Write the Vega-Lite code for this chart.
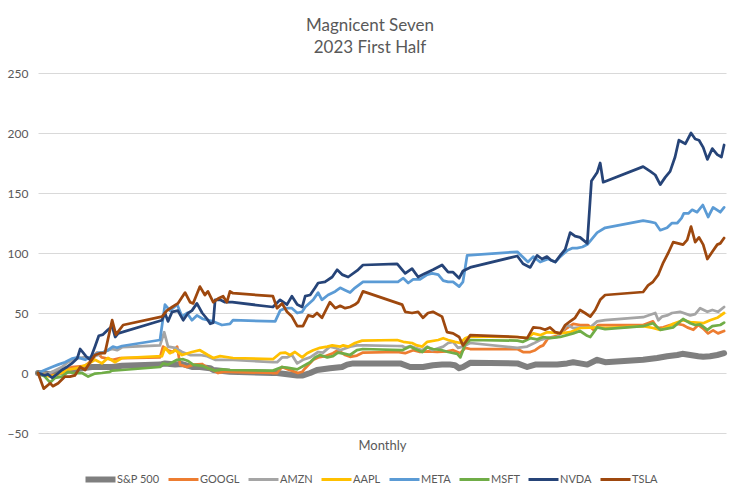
{
"$schema":"https://vega.github.io/schema/vega-lite/v6.json",
"width":688,"height":360,
"autosize":{"type":"none"},
"padding":{"left":38,"top":73,"right":15,"bottom":68},
"background":"white",
"title":{"text":["Magnicent Seven","2023 First Half"],"anchor":"middle","dx":-12,"offset":10,"font":"Lato","fontSize":17,"fontWeight":"normal","color":"#595959","lineHeight":22},
"data":{"values":[
{"s":"S&P 500","d":0,"v":0},{"s":"S&P 500","d":3.2,"v":-1},{"s":"S&P 500","d":6.3,"v":1},{"s":"S&P 500","d":8.9,"v":2.5},{"s":"S&P 500","d":11.6,"v":4},{"s":"S&P 500","d":14.2,"v":5},{"s":"S&P 500","d":16.3,"v":5},{"s":"S&P 500","d":19.5,"v":5},{"s":"S&P 500","d":22.1,"v":6},{"s":"S&P 500","d":32.1,"v":7},{"s":"S&P 500","d":33.4,"v":8},{"s":"S&P 500","d":36.1,"v":7},{"s":"S&P 500","d":37.9,"v":7.5},{"s":"S&P 500","d":40.5,"v":5},{"s":"S&P 500","d":42.6,"v":5},{"s":"S&P 500","d":45.3,"v":4},{"s":"S&P 500","d":46.1,"v":2.5},{"s":"S&P 500","d":50.5,"v":1},{"s":"S&P 500","d":61.8,"v":0},{"s":"S&P 500","d":62.9,"v":0},{"s":"S&P 500","d":68.2,"v":-2},{"s":"S&P 500","d":69.7,"v":-2},{"s":"S&P 500","d":71.6,"v":0},{"s":"S&P 500","d":73.4,"v":2.5},{"s":"S&P 500","d":76.8,"v":4},{"s":"S&P 500","d":80,"v":5},{"s":"S&P 500","d":81.3,"v":7},{"s":"S&P 500","d":82.9,"v":8},{"s":"S&P 500","d":85.5,"v":8},{"s":"S&P 500","d":94.5,"v":8},{"s":"S&P 500","d":95.3,"v":8},{"s":"S&P 500","d":97.9,"v":5},{"s":"S&P 500","d":101.3,"v":5},{"s":"S&P 500","d":103.9,"v":6.5},{"s":"S&P 500","d":106.3,"v":7},{"s":"S&P 500","d":108.4,"v":7},{"s":"S&P 500","d":109.7,"v":6.5},{"s":"S&P 500","d":110.8,"v":4},{"s":"S&P 500","d":111.8,"v":5},{"s":"S&P 500","d":113.7,"v":8.5},{"s":"S&P 500","d":126.1,"v":8},{"s":"S&P 500","d":128.7,"v":5},{"s":"S&P 500","d":130.8,"v":7},{"s":"S&P 500","d":136.6,"v":7},{"s":"S&P 500","d":139.2,"v":8},{"s":"S&P 500","d":140.8,"v":9},{"s":"S&P 500","d":142.6,"v":8},{"s":"S&P 500","d":144.5,"v":7},{"s":"S&P 500","d":147.1,"v":11},{"s":"S&P 500","d":149.2,"v":9},{"s":"S&P 500","d":159.2,"v":11},{"s":"S&P 500","d":162.9,"v":12.5},{"s":"S&P 500","d":165.5,"v":14},{"s":"S&P 500","d":168.2,"v":15},{"s":"S&P 500","d":169.5,"v":16},{"s":"S&P 500","d":171.6,"v":15},{"s":"S&P 500","d":173.7,"v":14},{"s":"S&P 500","d":175,"v":13.5},{"s":"S&P 500","d":176.8,"v":14},{"s":"S&P 500","d":178.7,"v":15},{"s":"S&P 500","d":180.5,"v":16.5},
{"s":"GOOGL","d":0,"v":0},{"s":"GOOGL","d":4.5,"v":-2},{"s":"GOOGL","d":6.3,"v":1},{"s":"GOOGL","d":8.9,"v":5},{"s":"GOOGL","d":12.4,"v":6},{"s":"GOOGL","d":13.2,"v":8},{"s":"GOOGL","d":14.5,"v":12},{"s":"GOOGL","d":15.5,"v":17},{"s":"GOOGL","d":16.8,"v":13},{"s":"GOOGL","d":18.2,"v":12},{"s":"GOOGL","d":19.7,"v":11},{"s":"GOOGL","d":21.6,"v":12.5},{"s":"GOOGL","d":22.4,"v":12.5},{"s":"GOOGL","d":32.1,"v":13},{"s":"GOOGL","d":32.9,"v":22},{"s":"GOOGL","d":34.2,"v":19},{"s":"GOOGL","d":35.5,"v":17.5},{"s":"GOOGL","d":36.6,"v":22},{"s":"GOOGL","d":37.4,"v":7},{"s":"GOOGL","d":39.2,"v":5},{"s":"GOOGL","d":40.8,"v":7},{"s":"GOOGL","d":43.2,"v":7.5},{"s":"GOOGL","d":44.7,"v":4},{"s":"GOOGL","d":46.1,"v":2.5},{"s":"GOOGL","d":47.4,"v":0},{"s":"GOOGL","d":48.7,"v":1},{"s":"GOOGL","d":50.5,"v":1},{"s":"GOOGL","d":61.6,"v":0},{"s":"GOOGL","d":62.9,"v":0},{"s":"GOOGL","d":64.2,"v":5},{"s":"GOOGL","d":65.8,"v":3},{"s":"GOOGL","d":68.4,"v":0},{"s":"GOOGL","d":69.5,"v":1},{"s":"GOOGL","d":70.3,"v":4},{"s":"GOOGL","d":72.4,"v":11},{"s":"GOOGL","d":73.7,"v":13},{"s":"GOOGL","d":75.5,"v":14},{"s":"GOOGL","d":77.6,"v":16.5},{"s":"GOOGL","d":78.9,"v":19},{"s":"GOOGL","d":80.8,"v":15},{"s":"GOOGL","d":82.1,"v":13.5},{"s":"GOOGL","d":83.9,"v":14.5},{"s":"GOOGL","d":85.5,"v":17},{"s":"GOOGL","d":94.5,"v":17.5},{"s":"GOOGL","d":96.6,"v":16.5},{"s":"GOOGL","d":98.7,"v":19},{"s":"GOOGL","d":100.5,"v":17.5},{"s":"GOOGL","d":102.6,"v":18},{"s":"GOOGL","d":105,"v":17.5},{"s":"GOOGL","d":107.6,"v":18},{"s":"GOOGL","d":109.2,"v":19},{"s":"GOOGL","d":111.1,"v":16.5},{"s":"GOOGL","d":112.4,"v":21},{"s":"GOOGL","d":113.7,"v":20},{"s":"GOOGL","d":126.1,"v":20},{"s":"GOOGL","d":127.6,"v":17.5},{"s":"GOOGL","d":129.5,"v":17.5},{"s":"GOOGL","d":130.8,"v":19},{"s":"GOOGL","d":132.1,"v":22},{"s":"GOOGL","d":132.9,"v":23},{"s":"GOOGL","d":134.2,"v":29},{"s":"GOOGL","d":136.6,"v":31},{"s":"GOOGL","d":139.2,"v":37.5},{"s":"GOOGL","d":140.8,"v":41},{"s":"GOOGL","d":142.6,"v":40},{"s":"GOOGL","d":144.7,"v":40},{"s":"GOOGL","d":146.1,"v":36},{"s":"GOOGL","d":147.4,"v":40},{"s":"GOOGL","d":149.2,"v":40},{"s":"GOOGL","d":159.2,"v":40},{"s":"GOOGL","d":161.8,"v":43},{"s":"GOOGL","d":162.9,"v":37.5},{"s":"GOOGL","d":164.5,"v":38},{"s":"GOOGL","d":166.3,"v":40},{"s":"GOOGL","d":168.2,"v":41},{"s":"GOOGL","d":169.7,"v":40},{"s":"GOOGL","d":170.8,"v":38},{"s":"GOOGL","d":172.4,"v":36},{"s":"GOOGL","d":173.7,"v":40},{"s":"GOOGL","d":175,"v":37},{"s":"GOOGL","d":176.3,"v":33},{"s":"GOOGL","d":177.6,"v":35.5},{"s":"GOOGL","d":178.9,"v":33},{"s":"GOOGL","d":180.5,"v":35},
{"s":"AMZN","d":0,"v":0},{"s":"AMZN","d":2.5,"v":-1},{"s":"AMZN","d":6.3,"v":5},{"s":"AMZN","d":7.9,"v":9},{"s":"AMZN","d":9.7,"v":12},{"s":"AMZN","d":12,"v":13},{"s":"AMZN","d":14.2,"v":13},{"s":"AMZN","d":15.8,"v":15},{"s":"AMZN","d":17.6,"v":18},{"s":"AMZN","d":19.5,"v":20},{"s":"AMZN","d":20.8,"v":19},{"s":"AMZN","d":22.1,"v":21.5},{"s":"AMZN","d":32.1,"v":23},{"s":"AMZN","d":33.2,"v":34},{"s":"AMZN","d":34.2,"v":22},{"s":"AMZN","d":36.1,"v":21},{"s":"AMZN","d":37.9,"v":17.5},{"s":"AMZN","d":40,"v":15},{"s":"AMZN","d":42.6,"v":15},{"s":"AMZN","d":44.5,"v":14},{"s":"AMZN","d":46.6,"v":11},{"s":"AMZN","d":51.3,"v":11},{"s":"AMZN","d":61.8,"v":9},{"s":"AMZN","d":62.9,"v":9},{"s":"AMZN","d":64.2,"v":13},{"s":"AMZN","d":65.5,"v":13},{"s":"AMZN","d":66.8,"v":15},{"s":"AMZN","d":68.2,"v":8},{"s":"AMZN","d":69.7,"v":11},{"s":"AMZN","d":71.6,"v":13},{"s":"AMZN","d":73.7,"v":17.5},{"s":"AMZN","d":75,"v":17},{"s":"AMZN","d":76.8,"v":22},{"s":"AMZN","d":78.2,"v":21},{"s":"AMZN","d":79.5,"v":19},{"s":"AMZN","d":82.1,"v":22},{"s":"AMZN","d":83.9,"v":23},{"s":"AMZN","d":86.1,"v":23},{"s":"AMZN","d":94.5,"v":22.5},{"s":"AMZN","d":95.8,"v":22.5},{"s":"AMZN","d":96.6,"v":21},{"s":"AMZN","d":97.9,"v":22.5},{"s":"AMZN","d":101.1,"v":19},{"s":"AMZN","d":102.4,"v":22},{"s":"AMZN","d":103.7,"v":19},{"s":"AMZN","d":106.6,"v":22},{"s":"AMZN","d":107.9,"v":25},{"s":"AMZN","d":109.2,"v":26},{"s":"AMZN","d":110.5,"v":21},{"s":"AMZN","d":111.8,"v":22},{"s":"AMZN","d":113.7,"v":25},{"s":"AMZN","d":126.1,"v":21},{"s":"AMZN","d":128.7,"v":22},{"s":"AMZN","d":130.3,"v":24.5},{"s":"AMZN","d":132.1,"v":27.5},{"s":"AMZN","d":133.9,"v":29},{"s":"AMZN","d":136.6,"v":30},{"s":"AMZN","d":139.2,"v":40},{"s":"AMZN","d":140.8,"v":37.5},{"s":"AMZN","d":143,"v":38},{"s":"AMZN","d":145.3,"v":38},{"s":"AMZN","d":147.1,"v":43},{"s":"AMZN","d":149.2,"v":44},{"s":"AMZN","d":159.2,"v":46.5},{"s":"AMZN","d":162.4,"v":50},{"s":"AMZN","d":163.2,"v":44},{"s":"AMZN","d":164.2,"v":47},{"s":"AMZN","d":165.5,"v":48},{"s":"AMZN","d":166.8,"v":50},{"s":"AMZN","d":168.9,"v":51},{"s":"AMZN","d":171.6,"v":48},{"s":"AMZN","d":172.9,"v":49},{"s":"AMZN","d":174.2,"v":54},{"s":"AMZN","d":176.1,"v":51},{"s":"AMZN","d":177.4,"v":52.5},{"s":"AMZN","d":178.9,"v":51},{"s":"AMZN","d":180.5,"v":55},
{"s":"AAPL","d":0,"v":0},{"s":"AAPL","d":3.2,"v":-3},{"s":"AAPL","d":6.3,"v":0},{"s":"AAPL","d":7.6,"v":2.5},{"s":"AAPL","d":10.3,"v":4},{"s":"AAPL","d":12.9,"v":7},{"s":"AAPL","d":15,"v":11},{"s":"AAPL","d":16.8,"v":8},{"s":"AAPL","d":18.4,"v":12.5},{"s":"AAPL","d":20.3,"v":9},{"s":"AAPL","d":22.1,"v":12.5},{"s":"AAPL","d":32.6,"v":14},{"s":"AAPL","d":33.4,"v":21},{"s":"AAPL","d":34.7,"v":16.5},{"s":"AAPL","d":36.1,"v":19},{"s":"AAPL","d":37.9,"v":15},{"s":"AAPL","d":40.5,"v":17.5},{"s":"AAPL","d":42.6,"v":19},{"s":"AAPL","d":44.7,"v":15},{"s":"AAPL","d":46.1,"v":12.5},{"s":"AAPL","d":47.9,"v":14},{"s":"AAPL","d":51.3,"v":12.5},{"s":"AAPL","d":61.8,"v":11.5},{"s":"AAPL","d":63.7,"v":16.5},{"s":"AAPL","d":65,"v":17},{"s":"AAPL","d":66.3,"v":15},{"s":"AAPL","d":67.6,"v":17.5},{"s":"AAPL","d":69.5,"v":13},{"s":"AAPL","d":70.8,"v":16.5},{"s":"AAPL","d":72.4,"v":19},{"s":"AAPL","d":74.2,"v":21},{"s":"AAPL","d":76.1,"v":22},{"s":"AAPL","d":77.4,"v":23},{"s":"AAPL","d":79.5,"v":22},{"s":"AAPL","d":80.3,"v":23},{"s":"AAPL","d":81.6,"v":22},{"s":"AAPL","d":83.4,"v":25},{"s":"AAPL","d":85.3,"v":27},{"s":"AAPL","d":94.5,"v":27.5},{"s":"AAPL","d":96.1,"v":26},{"s":"AAPL","d":98.4,"v":25},{"s":"AAPL","d":99.7,"v":23},{"s":"AAPL","d":101.1,"v":22},{"s":"AAPL","d":102.4,"v":26},{"s":"AAPL","d":105.3,"v":27.5},{"s":"AAPL","d":106.6,"v":29},{"s":"AAPL","d":107.9,"v":27.5},{"s":"AAPL","d":109.7,"v":26},{"s":"AAPL","d":111.1,"v":25},{"s":"AAPL","d":112.4,"v":29},{"s":"AAPL","d":113.7,"v":30.5},{"s":"AAPL","d":126.1,"v":30},{"s":"AAPL","d":128.7,"v":29},{"s":"AAPL","d":130.3,"v":33},{"s":"AAPL","d":132.1,"v":31.5},{"s":"AAPL","d":133.9,"v":34},{"s":"AAPL","d":137.4,"v":33},{"s":"AAPL","d":140,"v":34},{"s":"AAPL","d":142.6,"v":37.5},{"s":"AAPL","d":147.1,"v":38},{"s":"AAPL","d":149.2,"v":37.5},{"s":"AAPL","d":159.2,"v":39},{"s":"AAPL","d":161.8,"v":37.5},{"s":"AAPL","d":163.7,"v":36},{"s":"AAPL","d":165.5,"v":38},{"s":"AAPL","d":167.1,"v":41},{"s":"AAPL","d":169.7,"v":44},{"s":"AAPL","d":171.6,"v":42.5},{"s":"AAPL","d":175,"v":41.5},{"s":"AAPL","d":176.8,"v":44},{"s":"AAPL","d":178.7,"v":46},{"s":"AAPL","d":180.5,"v":50},
{"s":"META","d":0,"v":0},{"s":"META","d":1.8,"v":2.5},{"s":"META","d":3.7,"v":5},{"s":"META","d":5.3,"v":7},{"s":"META","d":7.1,"v":9},{"s":"META","d":8.9,"v":12},{"s":"META","d":10.5,"v":13},{"s":"META","d":12.4,"v":11},{"s":"META","d":14.2,"v":14},{"s":"META","d":15.8,"v":17},{"s":"META","d":17.1,"v":17},{"s":"META","d":18.4,"v":19},{"s":"META","d":19.7,"v":22},{"s":"META","d":20.8,"v":21},{"s":"META","d":22.1,"v":22.5},{"s":"META","d":32.1,"v":27.5},{"s":"META","d":33.4,"v":57},{"s":"META","d":34.7,"v":52},{"s":"META","d":36.6,"v":57},{"s":"META","d":37.9,"v":47},{"s":"META","d":39.2,"v":50},{"s":"META","d":40.5,"v":44},{"s":"META","d":41.8,"v":48},{"s":"META","d":43.4,"v":45},{"s":"META","d":46.1,"v":43},{"s":"META","d":48.4,"v":40},{"s":"META","d":50.5,"v":41},{"s":"META","d":51.3,"v":44},{"s":"META","d":62.4,"v":43},{"s":"META","d":63.7,"v":52},{"s":"META","d":65,"v":54},{"s":"META","d":66.8,"v":54},{"s":"META","d":68.2,"v":50},{"s":"META","d":69.5,"v":51},{"s":"META","d":70.3,"v":55},{"s":"META","d":72.4,"v":61},{"s":"META","d":73.7,"v":67},{"s":"META","d":74.7,"v":61},{"s":"META","d":76.3,"v":65},{"s":"META","d":78.2,"v":68},{"s":"META","d":79.5,"v":71},{"s":"META","d":80.8,"v":69},{"s":"META","d":82.1,"v":67},{"s":"META","d":83.4,"v":71},{"s":"META","d":85.5,"v":76},{"s":"META","d":94.7,"v":76},{"s":"META","d":96.1,"v":79},{"s":"META","d":97.4,"v":75},{"s":"META","d":98.7,"v":78},{"s":"META","d":100.5,"v":78},{"s":"META","d":102.4,"v":82},{"s":"META","d":103.7,"v":83},{"s":"META","d":105.3,"v":82},{"s":"META","d":106.6,"v":77},{"s":"META","d":107.9,"v":76},{"s":"META","d":109.2,"v":76},{"s":"META","d":110.8,"v":72},{"s":"META","d":111.8,"v":76},{"s":"META","d":112.9,"v":98},{"s":"META","d":126.1,"v":101},{"s":"META","d":127.4,"v":97},{"s":"META","d":128.9,"v":92.5},{"s":"META","d":130.3,"v":97},{"s":"META","d":132.1,"v":92.5},{"s":"META","d":134.2,"v":95},{"s":"META","d":136.1,"v":92.5},{"s":"META","d":137.4,"v":97},{"s":"META","d":139.2,"v":102},{"s":"META","d":140.5,"v":104},{"s":"META","d":141.8,"v":104},{"s":"META","d":143.2,"v":105},{"s":"META","d":144.5,"v":107},{"s":"META","d":145.8,"v":112},{"s":"META","d":147.1,"v":117},{"s":"META","d":149.2,"v":121},{"s":"META","d":159.2,"v":127},{"s":"META","d":161.1,"v":126},{"s":"META","d":162.4,"v":125},{"s":"META","d":163.7,"v":119},{"s":"META","d":165.5,"v":121},{"s":"META","d":166.8,"v":125},{"s":"META","d":168.2,"v":125},{"s":"META","d":169.3,"v":129},{"s":"META","d":169.9,"v":133},{"s":"META","d":171.1,"v":133},{"s":"META","d":172.1,"v":136},{"s":"META","d":173.4,"v":134},{"s":"META","d":174.9,"v":140},{"s":"META","d":176.3,"v":130},{"s":"META","d":177.6,"v":138},{"s":"META","d":179.5,"v":134},{"s":"META","d":180.5,"v":138},
{"s":"MSFT","d":0,"v":0},{"s":"MSFT","d":1.8,"v":-3},{"s":"MSFT","d":3.2,"v":-8},{"s":"MSFT","d":4.5,"v":-4},{"s":"MSFT","d":6.3,"v":-3},{"s":"MSFT","d":7.9,"v":1},{"s":"MSFT","d":9.2,"v":0},{"s":"MSFT","d":11.6,"v":0},{"s":"MSFT","d":13.2,"v":-3},{"s":"MSFT","d":15,"v":-0.5},{"s":"MSFT","d":16.8,"v":0},{"s":"MSFT","d":18.9,"v":1},{"s":"MSFT","d":19.5,"v":2},{"s":"MSFT","d":22.1,"v":2.5},{"s":"MSFT","d":32.1,"v":5},{"s":"MSFT","d":32.9,"v":8},{"s":"MSFT","d":34.2,"v":7},{"s":"MSFT","d":36.6,"v":11},{"s":"MSFT","d":38.2,"v":11.5},{"s":"MSFT","d":39.5,"v":10},{"s":"MSFT","d":40.8,"v":7},{"s":"MSFT","d":43.2,"v":6},{"s":"MSFT","d":44.7,"v":4},{"s":"MSFT","d":46.6,"v":2},{"s":"MSFT","d":48.4,"v":3},{"s":"MSFT","d":50.5,"v":2.5},{"s":"MSFT","d":61.8,"v":2},{"s":"MSFT","d":64.2,"v":5},{"s":"MSFT","d":65.5,"v":4.5},{"s":"MSFT","d":68.2,"v":3},{"s":"MSFT","d":71.6,"v":9},{"s":"MSFT","d":72.9,"v":13},{"s":"MSFT","d":74.2,"v":15},{"s":"MSFT","d":76.1,"v":13},{"s":"MSFT","d":77.6,"v":14},{"s":"MSFT","d":78.9,"v":17},{"s":"MSFT","d":80.8,"v":16},{"s":"MSFT","d":82.1,"v":15},{"s":"MSFT","d":83.9,"v":19},{"s":"MSFT","d":85.5,"v":20},{"s":"MSFT","d":95.8,"v":19},{"s":"MSFT","d":97.9,"v":22},{"s":"MSFT","d":99.2,"v":20},{"s":"MSFT","d":101.1,"v":17.5},{"s":"MSFT","d":102.4,"v":21.5},{"s":"MSFT","d":103.9,"v":20},{"s":"MSFT","d":106.3,"v":19},{"s":"MSFT","d":107.9,"v":17.5},{"s":"MSFT","d":110.3,"v":16},{"s":"MSFT","d":111.1,"v":13},{"s":"MSFT","d":112.4,"v":24},{"s":"MSFT","d":113.7,"v":27.5},{"s":"MSFT","d":126.1,"v":27},{"s":"MSFT","d":127.6,"v":26},{"s":"MSFT","d":129.5,"v":29},{"s":"MSFT","d":131.3,"v":28},{"s":"MSFT","d":132.9,"v":30},{"s":"MSFT","d":134.7,"v":29},{"s":"MSFT","d":137.4,"v":30},{"s":"MSFT","d":140.8,"v":33},{"s":"MSFT","d":142.6,"v":35},{"s":"MSFT","d":144.5,"v":31},{"s":"MSFT","d":145.3,"v":30},{"s":"MSFT","d":147.1,"v":38},{"s":"MSFT","d":149.2,"v":36.5},{"s":"MSFT","d":159.2,"v":39},{"s":"MSFT","d":161.8,"v":41.5},{"s":"MSFT","d":163.7,"v":36},{"s":"MSFT","d":165.5,"v":37},{"s":"MSFT","d":167.1,"v":38},{"s":"MSFT","d":169.7,"v":45},{"s":"MSFT","d":171.6,"v":41.5},{"s":"MSFT","d":172.9,"v":40},{"s":"MSFT","d":174.2,"v":40.5},{"s":"MSFT","d":176.1,"v":36},{"s":"MSFT","d":177.4,"v":39},{"s":"MSFT","d":179.5,"v":40},{"s":"MSFT","d":180.5,"v":42},
{"s":"NVDA","d":0,"v":0},{"s":"NVDA","d":1.8,"v":-2},{"s":"NVDA","d":2.6,"v":-1},{"s":"NVDA","d":3.7,"v":-4},{"s":"NVDA","d":5,"v":-1},{"s":"NVDA","d":6.3,"v":2.5},{"s":"NVDA","d":7.6,"v":5},{"s":"NVDA","d":8.9,"v":8},{"s":"NVDA","d":10.3,"v":12},{"s":"NVDA","d":11.1,"v":20},{"s":"NVDA","d":12.6,"v":14},{"s":"NVDA","d":13.7,"v":11},{"s":"NVDA","d":15,"v":22},{"s":"NVDA","d":16,"v":31},{"s":"NVDA","d":17.1,"v":32},{"s":"NVDA","d":18.4,"v":36},{"s":"NVDA","d":19.5,"v":39},{"s":"NVDA","d":20.3,"v":30},{"s":"NVDA","d":21.1,"v":33},{"s":"NVDA","d":32.6,"v":44},{"s":"NVDA","d":33.4,"v":50},{"s":"NVDA","d":34.2,"v":43},{"s":"NVDA","d":35.3,"v":51},{"s":"NVDA","d":36.8,"v":52},{"s":"NVDA","d":38.2,"v":44},{"s":"NVDA","d":39.5,"v":50},{"s":"NVDA","d":40.5,"v":52},{"s":"NVDA","d":41.8,"v":58},{"s":"NVDA","d":43.2,"v":50},{"s":"NVDA","d":44.5,"v":45},{"s":"NVDA","d":45.3,"v":41},{"s":"NVDA","d":46.1,"v":42},{"s":"NVDA","d":46.6,"v":61},{"s":"NVDA","d":47.9,"v":61},{"s":"NVDA","d":49.2,"v":59},{"s":"NVDA","d":51.1,"v":59},{"s":"NVDA","d":61.8,"v":55},{"s":"NVDA","d":63.7,"v":61},{"s":"NVDA","d":65.5,"v":57},{"s":"NVDA","d":66.8,"v":64},{"s":"NVDA","d":68.2,"v":57},{"s":"NVDA","d":69.5,"v":55},{"s":"NVDA","d":70.3,"v":64},{"s":"NVDA","d":71.6,"v":65},{"s":"NVDA","d":72.9,"v":71},{"s":"NVDA","d":73.7,"v":75},{"s":"NVDA","d":75.5,"v":76},{"s":"NVDA","d":77.4,"v":80},{"s":"NVDA","d":78.7,"v":86},{"s":"NVDA","d":80,"v":82},{"s":"NVDA","d":81.6,"v":80},{"s":"NVDA","d":84.2,"v":86},{"s":"NVDA","d":85.5,"v":90},{"s":"NVDA","d":94.5,"v":91},{"s":"NVDA","d":96.6,"v":83},{"s":"NVDA","d":98.4,"v":87},{"s":"NVDA","d":100,"v":80},{"s":"NVDA","d":101.8,"v":83},{"s":"NVDA","d":103.9,"v":86},{"s":"NVDA","d":106.3,"v":90},{"s":"NVDA","d":107.9,"v":84},{"s":"NVDA","d":109.2,"v":84},{"s":"NVDA","d":110.8,"v":79},{"s":"NVDA","d":111.8,"v":85},{"s":"NVDA","d":113.7,"v":88},{"s":"NVDA","d":126.1,"v":97.5},{"s":"NVDA","d":127.6,"v":91},{"s":"NVDA","d":129.5,"v":88},{"s":"NVDA","d":131.3,"v":98},{"s":"NVDA","d":132.6,"v":95},{"s":"NVDA","d":133.9,"v":97},{"s":"NVDA","d":135,"v":94},{"s":"NVDA","d":136.1,"v":92.5},{"s":"NVDA","d":137.4,"v":98},{"s":"NVDA","d":138.7,"v":103},{"s":"NVDA","d":140,"v":117},{"s":"NVDA","d":141.3,"v":114},{"s":"NVDA","d":142.6,"v":113},{"s":"NVDA","d":144.5,"v":108},{"s":"NVDA","d":145.6,"v":160},{"s":"NVDA","d":147.1,"v":167},{"s":"NVDA","d":147.9,"v":175},{"s":"NVDA","d":148.7,"v":159},{"s":"NVDA","d":159.2,"v":172},{"s":"NVDA","d":161.1,"v":168},{"s":"NVDA","d":162.4,"v":165},{"s":"NVDA","d":163.7,"v":157},{"s":"NVDA","d":165,"v":163},{"s":"NVDA","d":166.3,"v":168},{"s":"NVDA","d":167.6,"v":180},{"s":"NVDA","d":168.6,"v":194},{"s":"NVDA","d":170.3,"v":191},{"s":"NVDA","d":171.8,"v":200},{"s":"NVDA","d":172.9,"v":195},{"s":"NVDA","d":173.9,"v":194},{"s":"NVDA","d":175,"v":188},{"s":"NVDA","d":176.1,"v":178},{"s":"NVDA","d":177.4,"v":187},{"s":"NVDA","d":178.7,"v":182},{"s":"NVDA","d":179.8,"v":180},{"s":"NVDA","d":180.5,"v":190},
{"s":"TSLA","d":0,"v":0},{"s":"TSLA","d":1.5,"v":-13},{"s":"TSLA","d":3.2,"v":-8.5},{"s":"TSLA","d":3.9,"v":-11},{"s":"TSLA","d":5.3,"v":-8.5},{"s":"TSLA","d":7.1,"v":-3},{"s":"TSLA","d":8.4,"v":-3},{"s":"TSLA","d":9.7,"v":-2},{"s":"TSLA","d":11.1,"v":5},{"s":"TSLA","d":12.4,"v":2.5},{"s":"TSLA","d":13.5,"v":8},{"s":"TSLA","d":15,"v":15},{"s":"TSLA","d":16.3,"v":16.5},{"s":"TSLA","d":17.6,"v":16.5},{"s":"TSLA","d":19.5,"v":44},{"s":"TSLA","d":20.5,"v":32},{"s":"TSLA","d":22.4,"v":40},{"s":"TSLA","d":32.6,"v":47},{"s":"TSLA","d":33.9,"v":52},{"s":"TSLA","d":35.3,"v":55},{"s":"TSLA","d":36.8,"v":58},{"s":"TSLA","d":38.7,"v":67},{"s":"TSLA","d":40,"v":59},{"s":"TSLA","d":40.8,"v":58},{"s":"TSLA","d":42.6,"v":72},{"s":"TSLA","d":43.9,"v":65},{"s":"TSLA","d":44.7,"v":68},{"s":"TSLA","d":46.1,"v":59},{"s":"TSLA","d":47.4,"v":62},{"s":"TSLA","d":48.7,"v":64},{"s":"TSLA","d":49.7,"v":59},{"s":"TSLA","d":50.5,"v":68},{"s":"TSLA","d":51.3,"v":66.5},{"s":"TSLA","d":61.8,"v":64},{"s":"TSLA","d":62.9,"v":54},{"s":"TSLA","d":64.2,"v":58},{"s":"TSLA","d":65.5,"v":51},{"s":"TSLA","d":66.8,"v":47},{"s":"TSLA","d":68.2,"v":39},{"s":"TSLA","d":69.7,"v":39},{"s":"TSLA","d":71.1,"v":48},{"s":"TSLA","d":72.4,"v":47},{"s":"TSLA","d":73.4,"v":50},{"s":"TSLA","d":74.7,"v":46},{"s":"TSLA","d":76.8,"v":59},{"s":"TSLA","d":78.2,"v":54},{"s":"TSLA","d":79.5,"v":56},{"s":"TSLA","d":80.8,"v":54},{"s":"TSLA","d":82.1,"v":55},{"s":"TSLA","d":83.4,"v":57},{"s":"TSLA","d":84.2,"v":59},{"s":"TSLA","d":85.5,"v":68},{"s":"TSLA","d":95.8,"v":57},{"s":"TSLA","d":96.6,"v":51},{"s":"TSLA","d":98.4,"v":50},{"s":"TSLA","d":100,"v":51},{"s":"TSLA","d":101.3,"v":46},{"s":"TSLA","d":102.6,"v":50},{"s":"TSLA","d":103.9,"v":51},{"s":"TSLA","d":106.3,"v":47},{"s":"TSLA","d":107.6,"v":34},{"s":"TSLA","d":109.2,"v":33},{"s":"TSLA","d":110.8,"v":30},{"s":"TSLA","d":111.8,"v":23},{"s":"TSLA","d":113.2,"v":29},{"s":"TSLA","d":113.7,"v":31.5},{"s":"TSLA","d":126.1,"v":30},{"s":"TSLA","d":128.7,"v":29},{"s":"TSLA","d":130.3,"v":38},{"s":"TSLA","d":132.1,"v":37.5},{"s":"TSLA","d":133.4,"v":36},{"s":"TSLA","d":134.7,"v":38},{"s":"TSLA","d":136.1,"v":34},{"s":"TSLA","d":137.4,"v":33},{"s":"TSLA","d":138.7,"v":40},{"s":"TSLA","d":140,"v":43},{"s":"TSLA","d":141.3,"v":46},{"s":"TSLA","d":142.6,"v":52.5},{"s":"TSLA","d":143.9,"v":50},{"s":"TSLA","d":145.3,"v":47},{"s":"TSLA","d":146.6,"v":52.5},{"s":"TSLA","d":147.9,"v":61},{"s":"TSLA","d":149.2,"v":65},{"s":"TSLA","d":159.2,"v":67.5},{"s":"TSLA","d":160.5,"v":73},{"s":"TSLA","d":161.8,"v":76},{"s":"TSLA","d":163.2,"v":82},{"s":"TSLA","d":164.5,"v":92},{"s":"TSLA","d":165.8,"v":100},{"s":"TSLA","d":167.1,"v":109},{"s":"TSLA","d":168.4,"v":108},{"s":"TSLA","d":169.7,"v":107},{"s":"TSLA","d":170.8,"v":111},{"s":"TSLA","d":171.8,"v":122},{"s":"TSLA","d":172.9,"v":109},{"s":"TSLA","d":173.9,"v":113},{"s":"TSLA","d":175,"v":107},{"s":"TSLA","d":176.1,"v":95},{"s":"TSLA","d":177.4,"v":101},{"s":"TSLA","d":178.7,"v":107},{"s":"TSLA","d":179.5,"v":108},{"s":"TSLA","d":180.5,"v":112.5}
]},
"mark":{"type":"line","strokeJoin":"round","strokeCap":"round"},
"encoding":{
"x":{"field":"d","type":"quantitative","scale":{"domain":[0,181],"nice":false,"zero":false},"axis":{"title":"Monthly","labels":false,"ticks":false,"domain":false,"grid":false,"titlePadding":6,"titleFont":"Lato","titleFontSize":13,"titleFontWeight":"normal","titleColor":"#595959"}},
"y":{"field":"v","type":"quantitative","scale":{"domain":[-50,250],"nice":false},"axis":{"title":null,"values":[-50,0,50,100,150,200,250],"grid":true,"gridColor":"#D9D9D9","domain":false,"ticks":false,"labelPadding":10,"labelFont":"Lato","labelFontSize":12,"labelColor":"#595959"}},
"color":{"field":"s","type":"nominal","scale":{"domain":["S&P 500","GOOGL","AMZN","AAPL","META","MSFT","NVDA","TSLA"],"range":["#7F7F7F","#ED7D31","#A5A5A5","#FFC000","#5B9BD5","#70AD47","#264478","#9E480E"]},"legend":{"title":null,"orient":"none","legendX":57,"legendY":401,"direction":"horizontal","gridAlign":"none","symbolType":"stroke","symbolSize":900,"symbolStrokeWidth":3,"labelFont":"Lato","labelFontSize":11,"labelColor":"#595959","labelOffset":11,"columnPadding":2,"encode":{"symbols":{"update":{"strokeWidth":{"signal":"datum.value === 'S&P 500' ? 6 : 3"}}}}}},
"strokeWidth":{"condition":{"test":"datum.s === 'S&P 500'","value":6},"value":2.75}
},
"config":{"view":{"stroke":null}}
}
